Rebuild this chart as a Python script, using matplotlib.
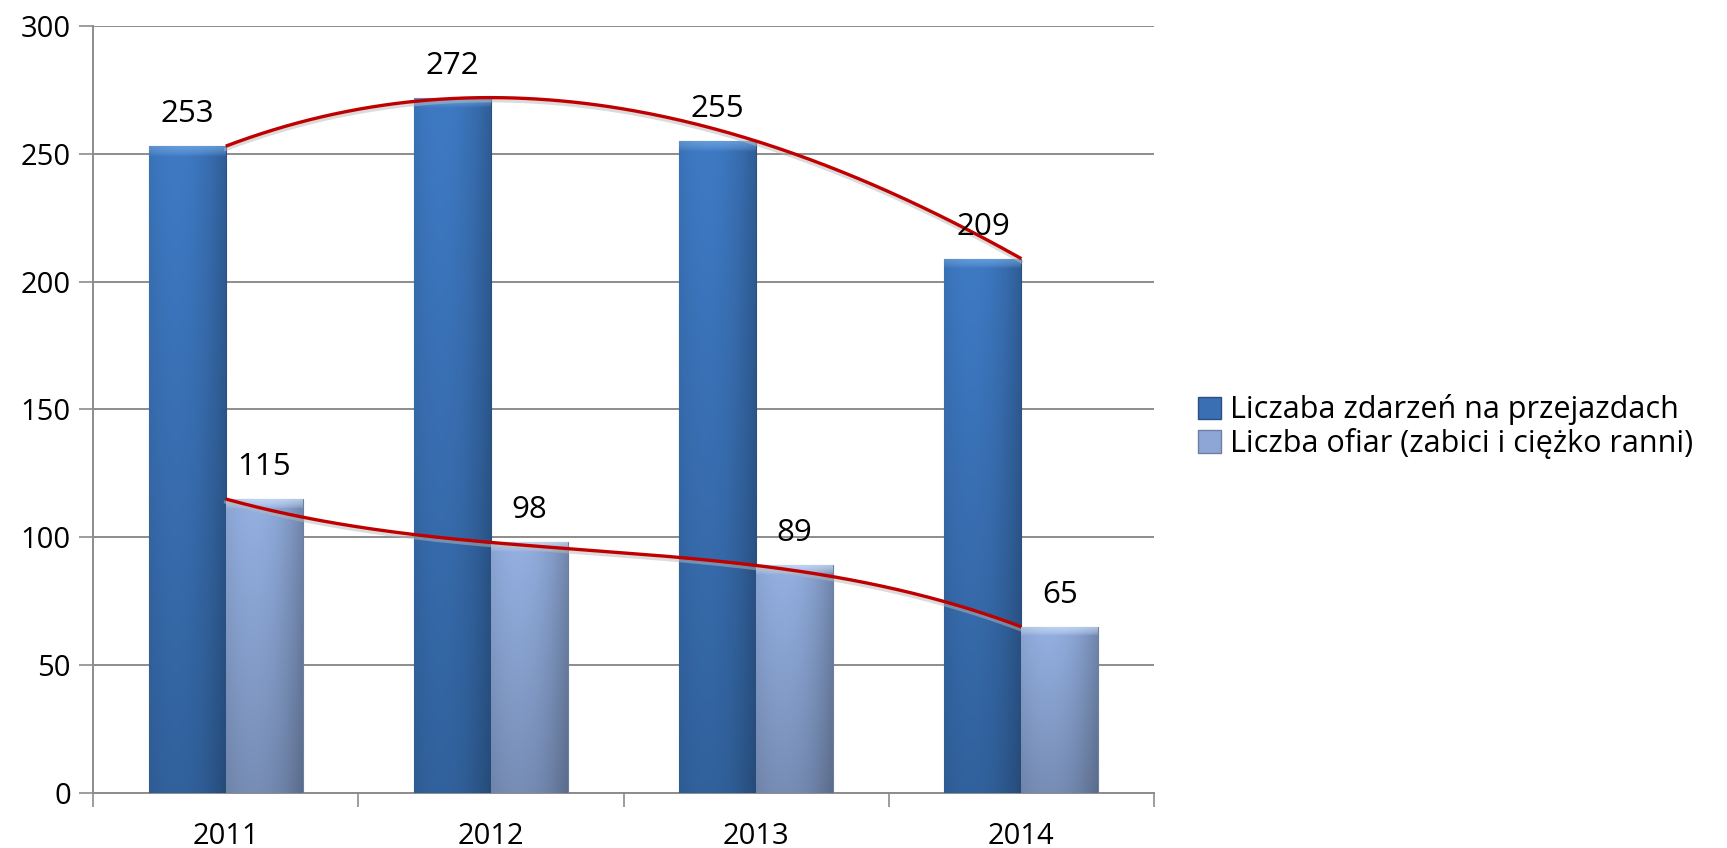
import matplotlib
matplotlib.use("Agg")
import matplotlib.pyplot as plt
import numpy as np
from matplotlib.patches import Rectangle
from matplotlib.legend_handler import HandlerBase

plt.rcParams['font.family'] = ['Open Sans', 'DejaVu Sans']

years = ["2011", "2012", "2013", "2014"]
zdarzenia = [253, 272, 255, 209]
ofiary = [115, 98, 89, 65]
labels = ["Liczaba zdarzeń na przejazdach", "Liczba ofiar (zabici i ciężko ranni)"]

dark_top = np.array([62, 122, 196]) / 255
light_top = np.array([148, 176, 226]) / 255
bevel_dark = np.array([100, 155, 218]) / 255
bevel_light = np.array([192, 212, 242]) / 255

fig = plt.figure(figsize=(17.27, 8.48), dpi=100)
ax = fig.add_axes([0.0539, 0.0649, 0.6143, 0.9044])

x = np.arange(len(years))
w = 0.29
ymax = 300
ax_px_h = 0.9044 * 848


def gradient_img(base, bevel, bar_h):
    nrow, ncol = 400, 60
    u = np.linspace(0, 1, ncol)[None, :]
    v = np.linspace(1, 0, nrow)[:, None]
    f = (0.80 + 0.20 * v) * (1 - 0.55 * (u - 0.35) ** 2)
    img = base[None, None, :] * f[:, :, None]
    # top bevel, about 9 px high, fading into the bar
    frac = 9.0 / (bar_h / ymax * ax_px_h)
    t = np.clip((v[:, 0] - (1 - frac)) / frac, 0, 1)[:, None, None] ** 0.6
    bev = bevel[None, None, :] * (1 - 0.3 * (u - 0.5) ** 2)[:, :, None]
    img = img * (1 - t) + bev * t
    return np.clip(img, 0, 1)


def shade(bars, base, bevel):
    for b in bars:
        h = b.get_height()
        im = ax.imshow(gradient_img(base, bevel, h), aspect='auto',
                       extent=[b.get_x(), b.get_x() + b.get_width(), 0, h],
                       zorder=3, interpolation='bilinear')
        im.set_clip_path(b)
        b.set_facecolor('none')


b1 = ax.bar(x - w / 2, zdarzenia, w, edgecolor='#2a4f80', linewidth=0.8, zorder=3)
b2 = ax.bar(x + w / 2, ofiary, w, edgecolor='#6d7ea3', linewidth=0.8, zorder=3)
shade(b1, dark_top, bevel_dark)
shade(b2, light_top, bevel_light)

for bars, vals in ((b1, zdarzenia), (b2, ofiary)):
    for b, v in zip(bars, vals):
        ax.text(b.get_x() + b.get_width() / 2, v + 12.5, str(v), ha='center', va='center',
                fontsize=22.5, zorder=5)

# polynomial trend lines (order 3) through category centres
xs = np.linspace(0, 3, 200)
for series in (zdarzenia, ofiary):
    c = np.polyfit(x, series, 3)
    ax.plot(xs, np.polyval(c, xs) - 1.2, color='#b8b8b8', lw=2.5, alpha=0.5, zorder=4)
    ax.plot(xs, np.polyval(c, xs), color='#c00000', lw=2.4, zorder=4,
            solid_capstyle='butt')

ax.set_xlim(-0.5, 3.5)
ax.set_ylim(0, ymax)
ax.set_yticks(np.arange(0, 301, 50))
ax.set_xticks(np.arange(-0.5, 3.6, 1))
ax.set_xticklabels([])
ax.set_xticks(x, minor=True)
ax.set_xticklabels(years, minor=True)
ax.tick_params(axis='x', which='major', length=10, width=1.2, color='#8c8c8c', direction='out')
ax.tick_params(axis='x', which='minor', length=0, pad=21, labelsize=21)
ax.tick_params(axis='y', length=10, width=1.2, color='#8c8c8c', pad=6, labelsize=21)
ax.grid(axis='y', color='#8c8c8c', lw=1.4, zorder=0)
ax.set_axisbelow(True)
for s in ('top', 'right'):
    ax.spines[s].set_visible(False)
for s in ('left', 'bottom'):
    ax.spines[s].set_color('#8c8c8c')
    ax.spines[s].set_linewidth(1.4)


class GradHandler(HandlerBase):
    def __init__(self, base, edge):
        super().__init__()
        self.base = base
        self.edge = edge

    def create_artists(self, legend, orig, xd, yd, width, height, fontsize, trans):
        s = min(width, height)
        r = Rectangle((xd + width - s, yd + (height - s) / 2 - 1), s, s,
                      facecolor=self.base, edgecolor=self.edge, lw=1.0, transform=trans)
        return [r]


leg = fig.legend([b1, b2], labels, loc='center left', bbox_to_anchor=(0.6935, 0.497),
                 frameon=False, fontsize=22, handlelength=0.75, handleheight=0.75,
                 handletextpad=0.3, labelspacing=0.08, borderaxespad=0, borderpad=0,
                 handler_map={b1: GradHandler('#3a6fb4', '#2a4f80'),
                              b2: GradHandler('#8ea6d6', '#6d7ea3')})

fig.savefig("out.png", dpi=100)
